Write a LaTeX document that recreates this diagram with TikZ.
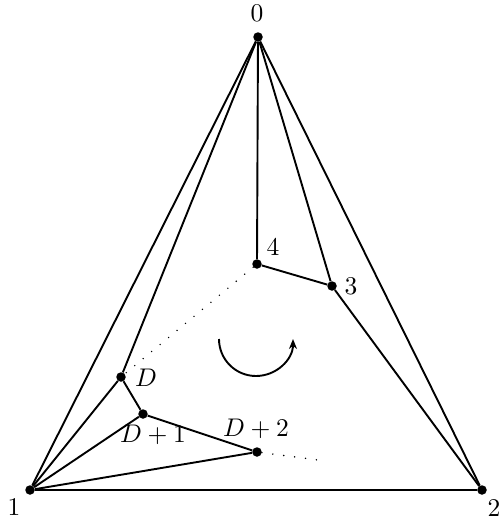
\documentclass[tikz,border=0pt]{standalone}
\usepackage{graphicx}
\usepackage{tikz}
\usetikzlibrary{arrows.meta}
\newcommand{\lb}[1]{\scalebox{2.55}{$#1$}}
\begin{document}
\begin{tikzpicture}[x=1pt,y=-1pt,
  vtx/.style={circle,fill=black,inner sep=0pt,minimum size=9.5pt},
  lbl/.style={inner sep=0pt},
  edge/.style={line width=1.9pt},
  dot/.style={line width=1.6pt,line cap=round,dash pattern=on 0pt off 11pt}]
\useasboundingbox (0,0) rectangle (502,520);
\node[vtx] (v0) at (258,37) {};
\node[vtx] (v1) at (30,490) {};
\node[vtx] (v2) at (482,490) {};
\node[vtx] (v3) at (332,286) {};
\node[vtx] (v4) at (257,264) {};
\node[vtx] (vD) at (121,377) {};
\node[vtx] (vD1) at (143,414) {};
\node[vtx] (vD2) at (257,452) {};
\coordinate (e2) at (326,461);
\node[lbl] (l0) at (257,13) {\lb{0}};
\node[lbl] (l1) at (14,507) {\lb{1}};
\node[lbl] (l2) at (494,508) {\lb{2}};
\node[lbl] (l3) at (351,286) {\lb{3}};
\node[lbl] (l4) at (273,247) {\lb{4}};
\node[lbl] (lD) at (146,378) {\lb{D}};
\node[lbl] (lD1) at (153,435) {\lb{D+1}};
\node[lbl] (lD2) at (256,429) {\lb{D+2}};
\draw[edge] (v0) -- (v1) -- (v2) -- (v0);
\draw[edge] (v0) -- (v4) -- (v3) -- (v0);
\draw[edge] (v3) -- (v2);
\draw[edge] (v0) -- (vD) -- (v1);
\draw[edge] (vD) -- (vD1) -- (v1);
\draw[edge] (vD1) -- (vD2) -- (v1);
\draw[dot] (v4) -- (vD);
\draw[dot] (vD2) -- (e2);
\draw[line width=1.9pt,-{Stealth[length=10pt,width=8pt]}] (219,339) arc[start angle=180,end angle=0,radius=37];
\end{tikzpicture}
\end{document}
